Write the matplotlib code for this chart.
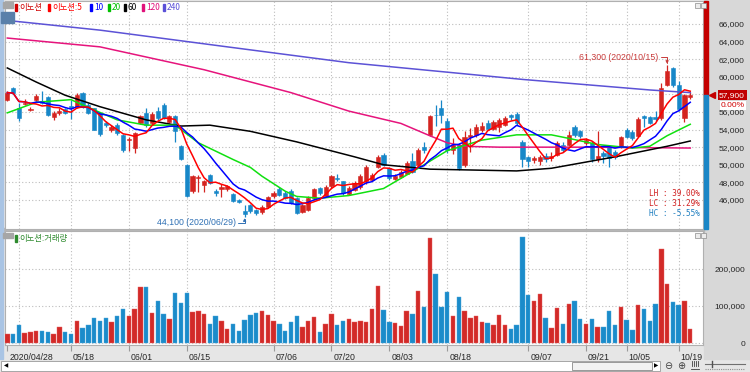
import numpy as np
import pandas as pd
import matplotlib
matplotlib.use("Agg")
import matplotlib.pyplot as plt
import matplotlib.transforms as mtransforms
from matplotlib.patches import Rectangle
from matplotlib.lines import Line2D
from matplotlib.ticker import FuncFormatter

W, H = 750, 372
KR = ["Noto Sans CJK KR", "DejaVu Sans"]
plt.rcParams["font.family"] = ["Liberation Sans", "DejaVu Sans"]

# KRX trading days, 2020/04/28 - 2020/10/21
krx_holidays = ["2020-04-30", "2020-05-01", "2020-05-05", "2020-08-17",
                "2020-09-30", "2020-10-01", "2020-10-02", "2020-10-09"]
dates = [d for d in pd.bdate_range("2020-04-28", "2020-10-21")
         if d.strftime("%Y-%m-%d") not in krx_holidays]

opens = [57400, 58700, 56500, 56900, 56200, 57400, 57300, 57700, 55400, 55900,
         56300, 56700, 56600, 58100, 56800, 56400, 55900, 54800, 53900, 54500,
         53400, 52800, 51900, 54700, 55900, 54700, 56100, 56800, 54900, 55500,
         52100, 50000, 47000, 48500, 47700, 48800, 47000, 47200, 47200, 46700,
         46000, 44700, 45400, 44900, 44600, 45200, 46400, 47300, 46800, 47000,
         46200, 44600, 44900, 46200, 47400, 46500, 47600, 48500, 48100, 46700,
         47100, 47500, 48100, 48300, 49800, 51100, 49600, 48400, 48600, 49000,
         50400, 50000, 52000, 53400, 55700, 56400, 55000, 51700, 52300, 50000,
         53100, 53400, 53900, 54700, 54100, 54300, 54500, 55600, 55800, 52600,
         50900, 50500, 50400, 51000, 50800, 51100, 52200, 52300, 54300, 53800,
         52500, 52500, 50600, 51300, 52000, 51400, 52100, 54000, 53700, 53300,
         55500, 55400, 55400, 55300, 59100, 61000, 59100, 55300, 57700]
highs = [58400, 58800, 57000, 57500, 56600, 58000, 58400, 57800, 56100, 56500,
         56500, 57400, 58200, 58300, 57000, 56500, 56000, 55000, 54500, 54800,
         53500, 53100, 53700, 55600, 56400, 56000, 56600, 57000, 55700, 55700,
         52200, 50100, 48800, 48800, 48300, 48900, 47200, 47800, 47700, 46800,
         46100, 45400, 45500, 45000, 45400, 46500, 47000, 47500, 47000, 47200,
         46300, 45500, 46400, 47400, 47500, 47700, 48800, 48900, 48200, 47600,
         48100, 49000, 50000, 49100, 51100, 51300, 49800, 48900, 49400, 50400,
         51300, 51900, 52600, 55700, 56800, 57400, 55300, 53000, 52500, 53800,
         54200, 54600, 54900, 55100, 55100, 55300, 55500, 55800, 56000, 52800,
         51000, 51000, 51100, 51300, 51400, 52700, 52600, 53800, 54500, 54000,
         53000, 52700, 53800, 51600, 52200, 51700, 53300, 54200, 53900, 55400,
         55700, 55500, 56100, 59300, 61300, 61100, 59500, 58000, 58300]
lows = [57300, 58000, 55000, 56800, 56100, 57200, 56900, 55500, 55100, 55600,
        55800, 55200, 56500, 56400, 55800, 53900, 53300, 54300, 53700, 53400,
        51500, 51600, 51300, 54600, 54300, 54500, 55100, 55200, 54800, 52600,
        50500, 46300, 46800, 46900, 46900, 47800, 46500, 46300, 47000, 45800,
        45700, 44100, 44500, 44300, 44400, 45100, 46200, 46500, 46100, 45500,
        44400, 44500, 44800, 46000, 46600, 46300, 47400, 48100, 46600, 46600,
        47000, 47300, 47800, 48100, 49600, 49900, 48300, 48300, 48500, 48900,
        49100, 49900, 51300, 53300, 54400, 54700, 51300, 51200, 49400, 49700,
        51500, 53200, 53700, 53900, 53900, 53700, 54400, 55100, 54500, 49800,
        49700, 50200, 50000, 50300, 50400, 51000, 51500, 52100, 53200, 53000,
        52300, 50300, 50300, 50200, 49800, 50600, 51900, 53000, 52800, 53100,
        54300, 54600, 55000, 55100, 58900, 58800, 56100, 54900, 57500]
closes = [58200, 58100, 55300, 57000, 56300, 57800, 57000, 55600, 55900, 56100,
          55900, 56400, 57900, 56600, 55900, 54000, 53500, 54500, 54300, 53600,
          51700, 52900, 53600, 55500, 54500, 55800, 55300, 55300, 55500, 53800,
          50700, 46500, 48700, 48600, 48100, 47900, 46800, 47500, 47600, 45900,
          45800, 44400, 44700, 44500, 45200, 46300, 46800, 46600, 46200, 45600,
          44500, 45400, 46200, 47300, 46800, 47500, 48700, 48400, 46800, 47400,
          47900, 48700, 49800, 48800, 50900, 50000, 48500, 48700, 49200, 50200,
          49200, 51700, 51700, 55500, 55600, 55700, 51700, 52300, 49600, 53100,
          53400, 54300, 54400, 54100, 54900, 55100, 55300, 55400, 54800, 50700,
          50400, 50800, 50900, 50700, 51000, 52500, 51700, 53400, 53400, 53300,
          52800, 50600, 51000, 51000, 50800, 50900, 53100, 53100, 53000, 55200,
          55300, 54800, 55200, 58700, 60600, 59100, 56300, 57900, 57900]
volumes = [23400, 25000, 48600, 27000, 28800, 33300, 33300, 30600, 24300, 44000,
           30600, 24300, 60400, 41400, 48600, 67600, 60400, 67600, 57700, 72000,
           92800, 72000, 92800, 150500, 152300, 81000, 112600, 77500, 64000, 136000,
           109000, 136000, 83800, 87400, 79300, 50500, 72000, 58600, 38700, 52300,
           31500, 63000, 76600, 81000, 87400, 75700, 58600, 51400, 33300, 58000,
           72000, 42000, 59000, 69000, 31000, 51000, 79000, 50000, 60000, 65800,
           57700, 60400, 57700, 92800, 154000, 89000, 56800, 53200, 46000, 86500,
           79300, 141400, 96400, 283800, 185600, 96400, 138700, 73000, 123400, 86500,
           67600, 73900, 55900, 54000, 48600, 76600, 48600, 36900, 47700, 286500,
           130600, 113500, 133300, 66700, 40500, 93700, 50500, 104500, 112600, 64000,
           51400, 64000, 44100, 44100, 85600, 48600, 98200, 62200, 35100, 101800,
           92800, 60400, 104500, 254000, 160400, 110800, 102700, 114400, 37800]

# long moving averages (bar index, value)
ma20_idx = [0, 5, 11, 13, 19, 24, 29, 33, 39, 42, 44, 48, 50, 54, 59, 65, 71,
            76, 82, 88, 94, 97, 102, 108, 111, 114, 118]
ma20_val = [55900, 57100, 57400, 56800, 55100, 54500, 54500, 52500, 50600, 49700,
            48700, 47000, 46400, 46200, 46500, 47300, 49600, 51600, 52800, 53400,
            53400, 53000, 52300, 51900, 52100, 53300, 54600]
ma60_idx = [0, 5, 10, 16, 24, 30, 35, 42, 50, 60, 65, 73, 88, 94, 105, 114, 118]
ma60_val = [61000, 59400, 57900, 56600, 55100, 54400, 54500, 53800, 52600, 50900,
            50000, 49500, 49300, 49600, 50900, 52100, 52700]
ma120_idx = [0, 16, 34, 49, 59, 68, 73, 76, 79, 85, 100, 118]
ma120_val = [64400, 63400, 60800, 58200, 56100, 54700, 53300, 52500, 52100, 52000,
             52000, 51900]
ma240_idx = [0, 16, 38, 59, 89, 111, 118]
ma240_val = [66400, 65300, 63400, 61600, 59700, 58500, 58200]

grid_dates = ["2020-05-04", "2020-05-18", "2020-06-01", "2020-06-15", "2020-07-06",
              "2020-07-20", "2020-08-03", "2020-08-18", "2020-09-07", "2020-09-21",
              "2020-10-05", "2020-10-19"]
tick_dates = ["2020-04-28"] + grid_dates[1:]

RED, BLUE = "#d42420", "#1787c8"
VRED, VBLUE = "#d22a28", "#1b8bca"


def box(x0, y0, x1, y1, **kw):
    fig.add_artist(Rectangle((x0 / W, 1 - y1 / H), (x1 - x0) / W, (y1 - y0) / H,
                             transform=fig.transFigure, **kw))


def line(xs, ys, **kw):
    fig.add_artist(Line2D([x / W for x in xs], [1 - y / H for y in ys],
                          transform=fig.transFigure, **kw))


fig = plt.figure(figsize=(W / 100, H / 100), dpi=100)
fig.patch.set_facecolor("#e6e6e6")
box(704, 0, 750, 359, color="#d8d8d8", zorder=-1)
box(0, 228, 704, 232, color="#b8b8b8", zorder=-1)

L, R = 5, 703
ax = fig.add_axes([L / W, 1 - 229 / H, (R - L) / W, 228 / H])
axv = fig.add_axes([L / W, 1 - 345 / H, (R - L) / W, 114 / H], sharex=ax)

x = np.arange(len(closes))
o, h, l, c = map(np.array, (opens, highs, lows, closes))
up = c >= o
cols = np.where(up, RED, BLUE)

date_str = [d.strftime("%Y-%m-%d") for d in dates]
grid_idx = [date_str.index(s) for s in grid_dates]
tick_idx = [date_str.index(s) for s in tick_dates]

for a in (ax, axv):
    a.set_facecolor("white")
    for i in grid_idx:
        a.axvline(i, color="#bdbdbd", lw=0.8, ls=(0, (1, 2)), zorder=1)
    a.yaxis.grid(True, color="#bdbdbd", lw=0.8, ls=(0, (1, 2)))
    a.set_axisbelow(True)
    for s in a.spines.values():
        s.set_color("#b0b0b0")
        s.set_linewidth(0.8)
    a.yaxis.tick_right()
    a.tick_params(axis="y", length=0, pad=30.2, labelsize=6, labelcolor="#262626")

# price panel
ax.vlines(x, l, h, colors=cols, lw=0.9, zorder=3)
ax.bar(x, np.maximum(np.abs(c - o), 70), bottom=np.minimum(o, c), width=0.72,
       color=cols, edgecolor=cols, lw=0.4, zorder=4)

ma5 = pd.Series(closes).rolling(5, min_periods=1).mean()
ma10 = pd.Series(closes).rolling(10, min_periods=1).mean()
ax.plot(ma240_idx, ma240_val, color="#5c52d6", lw=1.1, zorder=5)
ax.plot(ma120_idx, ma120_val, color="#e6147c", lw=1.1, zorder=5)
ax.plot(ma60_idx, ma60_val, color="#000000", lw=1.1, zorder=5)
ax.plot(ma20_idx, ma20_val, color="#10e010", lw=1.1, zorder=5)
ax.plot(x, ma10, color="#0000ff", lw=1.1, zorder=6)
ax.plot(x, ma5, color="#ff0000", lw=1.1, zorder=6)

ax.set_xlim(-0.4, 120.2)
ax.set_ylim(42700, 68610)
ax.set_yticks(range(46000, 66001, 2000))
ax.yaxis.set_major_formatter(FuncFormatter(lambda v, p: f"{v:,.0f}"))
ax.tick_params(axis="x", length=0, labelbottom=False)
for lbl in ax.get_yticklabels():
    lbl.set_ha("right")

hi = max(highs)
lo = min(lows)
last = closes[-1]
hi_i = highs.index(hi)
lo_i = lows.index(lo)
ax.annotate(f"{hi:,} ({dates[hi_i]:%Y/%m/%d})", xy=(hi_i, hi), xytext=(-9, 8),
            textcoords="offset pixels", ha="right", va="center", color="#c83a3a",
            fontsize=6.3, zorder=8,
            arrowprops=dict(arrowstyle="-|>", color="#c83a3a", lw=0.7, mutation_scale=4,
                            shrinkA=0, shrinkB=1, relpos=(1, 0.5),
                            connectionstyle="angle,angleA=0,angleB=90,rad=0"))
ax.annotate(f"{lo:,} ({dates[lo_i]:%Y/%m/%d})", xy=(lo_i, lo), xytext=(-9, -6),
            textcoords="offset pixels", ha="right", va="center", color="#2f70b4",
            fontsize=6.3, zorder=8,
            arrowprops=dict(arrowstyle="-|>", color="#2f70b4", lw=0.7, mutation_scale=4,
                            shrinkA=0, shrinkB=1, relpos=(1, 0.5),
                            connectionstyle="angle,angleA=0,angleB=90,rad=0"))

stats = [("LH", (hi / lo - 1) * 100, "#d02020"),
         ("LC", (last / lo - 1) * 100, "#d02020"),
         ("HC", (last / hi - 1) * 100, "#1f7fc0")]
for k, (name, val, col) in enumerate(stats):
    ax.text((700 - L) / (R - L), (229 - 194 - 10 * k) / 228, f"{name} : {val:.2f}%",
            transform=ax.transAxes, ha="right", va="center", fontsize=5.6,
            family="DejaVu Sans Mono", color=col, zorder=8)

# current price marker on the right edge
bt = mtransforms.blended_transform_factory(ax.transAxes, ax.transData)
y0, y1 = ax.get_ylim()
ax.add_patch(Rectangle((1.002, last), 4 / (R - L), y1 - last, transform=bt,
                       color="#c40000", clip_on=False, zorder=9))
ax.add_patch(Rectangle((1.002, y0), 4 / (R - L), last - y0, transform=bt,
                       color="#1a86c6", clip_on=False, zorder=9))
ax.plot([(712 - L) / (R - L)], [last], marker="<", ms=5, color="#c40000",
        transform=bt, clip_on=False, zorder=9)
ax.text((745 - L) / (R - L), last, f"{last:,}", transform=bt, ha="right", va="center",
        color="white", fontsize=6, zorder=9, clip_on=False,
        bbox=dict(boxstyle="square,pad=0.18", fc="#c00000", ec="none"))
chg = (closes[-1] / closes[-2] - 1) * 100
ax.text((745 - L) / (R - L), last, f"{chg:.2f}%",
        transform=mtransforms.offset_copy(bt, fig=fig, x=0, y=-10, units="dots"),
        ha="right", va="center", color="#d00000", fontsize=6, zorder=9, clip_on=False,
        bbox=dict(boxstyle="square,pad=0.12", fc="white", ec="none"))

# volume panel
axv.bar(x, volumes, width=0.76, color=np.where(up, VRED, VBLUE),
        edgecolor=np.where(up, "#e86060", "#4aa8dc"), lw=0.3, zorder=3)
axv.set_ylim(-5400, 302700)
axv.set_yticks([0, 100000, 200000])
axv.yaxis.set_major_formatter(FuncFormatter(lambda v, p: f"{v:,.0f}"))
for lbl in axv.get_yticklabels():
    lbl.set_ha("right")
axv.set_xticks(tick_idx)
axv.set_xticklabels([dates[i].strftime("%Y/%m/%d") if n == 0 else dates[i].strftime("%m/%d")
                     for n, i in enumerate(tick_idx)])
axv.tick_params(axis="x", length=4, color="#9a9a9a", labelsize=6.3, pad=1.5,
                labelcolor="#262626")
shift = mtransforms.ScaledTranslation(2 / 100, 0, fig.dpi_scale_trans)
for lbl in axv.get_xticklabels():
    lbl.set_ha("left")
    lbl.set_transform(lbl.get_transform() + shift)

# legends
box(3, 2, 13, 8, color="#a6a6a6", zorder=5)
leg_labels = ["이노션", "이노션:5", "10", "20", "60", "120", "240"]
leg_colors = ["#d00000", "#ff0000", "#0000ff", "#00c000", "#000000", "#e0107a", "#5a50d8"]
leg_x = [15, 48, 90, 108, 124, 142, 163]
for lx, lab, col in zip(leg_x, leg_labels, leg_colors):
    box(lx, 4, lx + 2, 11, color=col, zorder=5)
    fig.text((lx + 4) / W, 1 - 7.5 / H, lab, color=col, fontsize=6, family=KR,
             va="center", ha="left")
box(1, 12, 14, 23, color="#5a80aa", zorder=5)
fig.text(7.5 / W, 1 - 17.5 / H, "호", color="white", fontsize=5.5, family=KR,
         ha="center", va="center")

box(3, 233, 13, 238, color="#a6a6a6", zorder=5)
box(15, 235, 17, 242, color="#2e8b2e", zorder=5)
fig.text(19 / W, 1 - 238.5 / H, "이노션:거래량", color="#2e8b2e", fontsize=6, family=KR,
         va="center", ha="left")

for yb in (3, 233):
    for xb in (695, 701):
        box(xb, yb, xb + 5, yb + 5, fc="#ececec", ec="#8c8c8c", lw=0.5, zorder=6)

# left frame and scroll bar
box(0, 0, 3, 359, color="#a9c4e4", zorder=2)
box(1, 361, 660, 371, fc="white", ec="#9a9a9a", lw=0.6, zorder=2)
box(572, 362, 652, 370, fc="#f2f2f2", ec="#8a8a8a", lw=0.6, zorder=3)
fig.text(4 / W, 1 - 366 / H, "◀", fontsize=4, family="DejaVu Sans", va="center")
fig.text(654 / W, 1 - 366 / H, "▶", fontsize=4, family="DejaVu Sans", va="center")
fig.text(664 / W, 1 - 366 / H, "⊖", fontsize=7, family="DejaVu Sans", va="center",
         color="#404040")
fig.text(677 / W, 1 - 366 / H, "⊕", fontsize=7, family="DejaVu Sans", va="center",
         color="#404040")
for xb in (692, 694, 696, 698):
    line([xb, xb], [361, 366], color="#404040", lw=0.6)
line([691, 699], [369, 369], color="#404040", lw=0.6)
line([705, 745], [364, 364], color="#707070", lw=0.8)
line([712, 712], [361, 367], color="#505050", lw=1.0)
line([705, 745], [369, 369], color="#909090", lw=0.8, ls=(0, (1, 1)))

fig.savefig("out.png", dpi=100, facecolor=fig.get_facecolor())
